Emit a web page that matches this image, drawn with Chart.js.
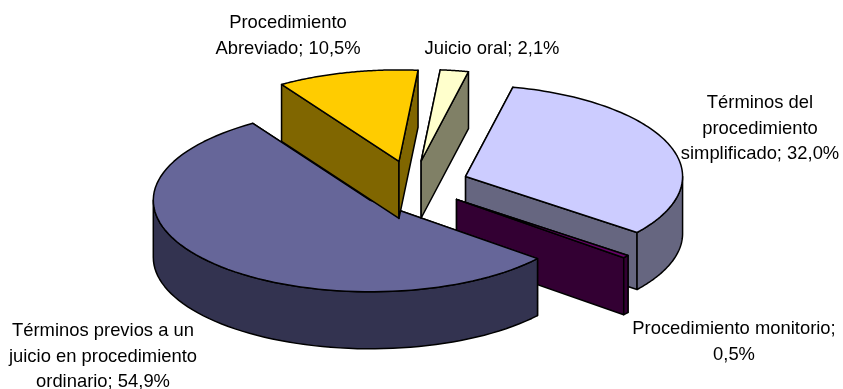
<!DOCTYPE html>
<html>
<head>
<meta charset="utf-8">
<style>
  html, body { margin: 0; padding: 0; background: #fff; }
  #wrap { width: 843px; height: 389px; }
</style>
</head>
<body>
<div id="wrap"><canvas id="grafico" width="843" height="389"></canvas></div>
<script src="https://cdn.jsdelivr.net/npm/chart.js@4"></script>
<script>
// datos
const categorias = [
  "Términos del procedimiento simplificado",
  "Procedimiento monitorio",
  "Términos previos a un juicio en procedimiento ordinario",
  "Procedimiento Abreviado",
  "Juicio oral",
];
const valores = [32.0, 0.5, 54.9, 10.5, 2.1];
const etiquetas = [
  ["Términos del", "procedimiento", "simplificado; 32,0%"],
  ["Procedimiento monitorio;", "0,5%"],
  ["Términos previos a un", "juicio en procedimiento", "ordinario; 54,9%"],
  ["Procedimiento", "Abreviado; 10,5%"],
  ["Juicio oral; 2,1%"],
];

// estilo
const coloresTapa = ["#ccccff", "#660066", "#666699", "#ffcc00", "#ffffcc"];
const coloresLado = ["#666680", "#330033", "#333350", "#806600", "#808066"];
const posEtiquetas = [[760, 103], [734, 329], [103, 331], [288, 23], [492, 49]];
const ordenDibujo = [0, 1, 2, 3, 4];

// geometria del "3D"
const CX = 412.5, CY = 184.5, RX = 217, RY = 91.5, ALTO = 57, EXPLOSION = 0.26;
const ALTO_LINEA = 25.7;

function dibujarPorcion(ctx, arc, i) {
  const { x, y, startAngle, endAngle, outerRadius } = arc;
  const mid = (startAngle + endAngle) / 2;
  const ax = CX + Math.cos(mid) * EXPLOSION * RX;
  const ay = CY + Math.sin(mid) * EXPLOSION * RY;
  const pt = (a, dy = 0) => [ax + Math.cos(a) * RX, ay + Math.sin(a) * RY + dy];

  ctx.save();
  ctx.lineWidth = 1.5;
  ctx.lineJoin = "round";
  ctx.strokeStyle = "#000";
  ctx.fillStyle = coloresLado[i];

  // lados de corte
  [startAngle, endAngle].forEach((a) => {
    const p = pt(a);
    ctx.beginPath();
    ctx.moveTo(ax, ay);
    ctx.lineTo(p[0], p[1]);
    ctx.lineTo(p[0], p[1] + ALTO);
    ctx.lineTo(ax, ay + ALTO);
    ctx.closePath();
    ctx.fill();
    ctx.stroke();
  });

  // pared exterior, solo la parte que mira al frente (angulos 0..PI en canvas)
  for (let k = -1; k <= 1; k++) {
    const desde = Math.max(startAngle, k * 2 * Math.PI);
    const hasta = Math.min(endAngle, k * 2 * Math.PI + Math.PI);
    if (hasta <= desde) continue;
    ctx.beginPath();
    for (let n = 0; n <= 60; n++) {
      const p = pt(desde + ((hasta - desde) * n) / 60);
      n ? ctx.lineTo(p[0], p[1]) : ctx.moveTo(p[0], p[1]);
    }
    for (let n = 60; n >= 0; n--) {
      const p = pt(desde + ((hasta - desde) * n) / 60, ALTO);
      ctx.lineTo(p[0], p[1]);
    }
    ctx.closePath();
    ctx.fill();
    ctx.stroke();
  }

  // tapa: la dibuja el propio ArcElement con el contexto aplastado
  const sx = RX / outerRadius, sy = RY / outerRadius;
  ctx.save();
  ctx.translate(ax, ay);
  ctx.scale(sx, sy);
  ctx.translate(-x, -y);
  arc.draw(ctx);
  ctx.restore();

  // contorno de la tapa con grosor uniforme
  ctx.beginPath();
  ctx.moveTo(ax, ay);
  for (let n = 0; n <= 80; n++) {
    const p = pt(startAngle + ((endAngle - startAngle) * n) / 80);
    ctx.lineTo(p[0], p[1]);
  }
  ctx.closePath();
  ctx.stroke();
  ctx.restore();
}

const pastel3d = {
  id: "pastel3d",
  beforeDatasetsDraw(chart) {
    const ctx = chart.ctx;
    const arcos = chart.getDatasetMeta(0).data;
    ordenDibujo.forEach((i) => dibujarPorcion(ctx, arcos[i], i));

    ctx.save();
    ctx.fillStyle = "#000";
    ctx.font = '18.4px "Liberation Sans", Arial, sans-serif';
    ctx.textAlign = "center";
    ctx.textBaseline = "middle";
    etiquetas.forEach((lineas, i) => {
      lineas.forEach((t, j) => {
        ctx.fillText(t, posEtiquetas[i][0], posEtiquetas[i][1] + j * ALTO_LINEA);
      });
    });
    ctx.restore();
    return false;
  },
};

new Chart(document.getElementById("grafico"), {
  type: "pie",
  data: {
    labels: categorias,
    datasets: [
      {
        data: valores,
        backgroundColor: coloresTapa,
        borderWidth: 0,
      },
    ],
  },
  options: {
    responsive: false,
    animation: false,
    rotation: 12.6,
    layout: { padding: 0 },
    plugins: { legend: { display: false }, tooltip: { enabled: false } },
  },
  plugins: [pastel3d],
});
</script>
</body>
</html>
